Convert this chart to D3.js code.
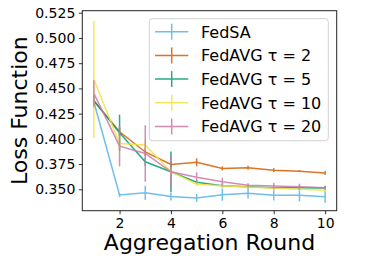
<!DOCTYPE html>
<html><head><meta charset="utf-8">
<script src="https://cdn.jsdelivr.net/npm/d3@7"></script>
<style>
html,body{margin:0;padding:0;background:#fff;}
svg{display:block;font-family:"DejaVu Sans",sans-serif;}
</style></head>
<body><svg id="c" width="374" height="259"></svg>
<script>
const rounds = [1,2,3,4,5,6,7,8,9,10];
const seriesNames = ["FedSA","FedAVG \u03c4 = 2","FedAVG \u03c4 = 5","FedAVG \u03c4 = 10","FedAVG \u03c4 = 20"];
const colors = ["#56B4E9","#D55E00","#009E73","#F0E442","#CC79A7"];
const fedSA   = [0.4365,0.3444,0.3465,0.3428,0.3414,0.3447,0.3460,0.3440,0.3440,0.3427];
const fedSAerr= [0.006,0.002,0.007,0.004,0.004,0.006,0.005,0.005,0.006,0.006];
const avg2    = [0.4375,0.4070,0.3870,0.3747,0.3767,0.3707,0.3713,0.3690,0.3680,0.3661];
const avg2err = [0.004,0.004,0.004,0.002,0.004,0.002,0.002,0.002,0.001,0.002];
const avg5    = [0.4380,0.4060,0.3773,0.3674,0.3570,0.3536,0.3526,0.3516,0.3516,0.3513];
const avg5err = [0.005,0.018,0.004,0.020,0.002,0.002,0.002,0.002,0.002,0.002];
const avg10   = [0.4590,0.3954,0.3940,0.3674,0.3550,0.3536,0.3523,0.3510,0.3500,0.3490];
const avg10err= [0.058,0.008,0.005,0.003,0.002,0.002,0.002,0.002,0.002,0.002];
const avg20   = [0.4450,0.3928,0.3855,0.3674,0.3619,0.3575,0.3540,0.3533,0.3526,0.3516];
const avg20err= [0.013,0.020,0.028,0.016,0.005,0.004,0.002,0.003,0.003,0.002];
const xTicks = [2,4,6,8,10];
const yTicks = [0.350,0.375,0.400,0.425,0.450,0.475,0.500,0.525];
const xLabel = "Aggregation Round";
const yLabel = "Loss Function";

const series = [
  {name:seriesNames[0], v:fedSA, e:fedSAerr, c:colors[0]},
  {name:seriesNames[1], v:avg2, e:avg2err, c:colors[1]},
  {name:seriesNames[2], v:avg5, e:avg5err, c:colors[2]},
  {name:seriesNames[3], v:avg10, e:avg10err, c:colors[3]},
  {name:seriesNames[4], v:avg20, e:avg20err, c:colors[4]}
];

const L=82.3, R=336.7, T=10.7, B=210.7;
const x = d3.scaleLinear().domain([0.55,10.45]).range([L,R]);
const y = d3.scaleLinear().domain([0.3288,0.5270]).range([B,T]);
const svg = d3.select("#c");

const plot = svg.append("g");
const line = d3.line().x((d,i)=>x(rounds[i])).y(d=>y(d));
series.forEach(s=>{
  const g = plot.append("g").attr("opacity",0.85);
  g.selectAll("line.eb").data(s.v).join("line")
    .attr("x1",(d,i)=>x(rounds[i])).attr("x2",(d,i)=>x(rounds[i]))
    .attr("y1",(d,i)=>y(d - s.e[i])).attr("y2",(d,i)=>y(d + s.e[i]))
    .attr("stroke",s.c).attr("stroke-width",1.5);
  g.append("path").datum(s.v).attr("d",line)
    .attr("fill","none").attr("stroke",s.c).attr("stroke-width",1.5);
});

// axes
const xAxis = d3.axisBottom(x).tickValues(xTicks).tickSize(3.5).tickPadding(3.5).tickFormat(d3.format("d"));
const yAxis = d3.axisLeft(y).tickValues(yTicks).tickSize(3.5).tickPadding(3.5).tickFormat(d3.format(".3f"));
const gx = svg.append("g").attr("transform",`translate(0,${B})`).call(xAxis);
const gy = svg.append("g").attr("transform",`translate(${L},0)`).call(yAxis);
[gx,gy].forEach(g=>{
  g.select(".domain").remove();
  g.selectAll("text").attr("font-size",14).attr("font-family","DejaVu Sans").attr("fill","#000");
  g.selectAll("line").attr("stroke","#000").attr("stroke-width",0.8);
});
svg.append("rect").attr("x",L).attr("y",T).attr("width",R-L).attr("height",B-T)
  .attr("fill","none").attr("stroke","#222").attr("stroke-width",1);

svg.append("text").attr("x",(L+R)/2).attr("y",249.5).attr("text-anchor","middle")
  .attr("font-size",22).attr("fill","#000").text(xLabel);
svg.append("text").attr("transform",`translate(27,${(T+B)/2}) rotate(-90)`)
  .attr("text-anchor","middle").attr("font-size",22).attr("fill","#000").text(yLabel);

// legend
const lg = svg.append("g");
lg.append("rect").attr("x",149.3).attr("y",18.7).attr("width",179).attr("height",122)
  .attr("rx",3).attr("fill","#fff").attr("fill-opacity",0.8).attr("stroke","#d0d0d0").attr("stroke-width",1);
series.forEach((s,i)=>{
  const cy = 31.7 + i*23.7;
  const g = lg.append("g").attr("opacity",0.85);
  g.append("line").attr("x1",155).attr("x2",188.3).attr("y1",cy).attr("y2",cy).attr("stroke",s.c).attr("stroke-width",1.5);
  g.append("line").attr("x1",171.7).attr("x2",171.7).attr("y1",cy-8).attr("y2",cy+8).attr("stroke",s.c).attr("stroke-width",1.5);
  lg.append("text").attr("x",201).attr("y",cy+5.8).attr("font-size",16).attr("fill","#000").text(s.name);
});
</script></body></html>
